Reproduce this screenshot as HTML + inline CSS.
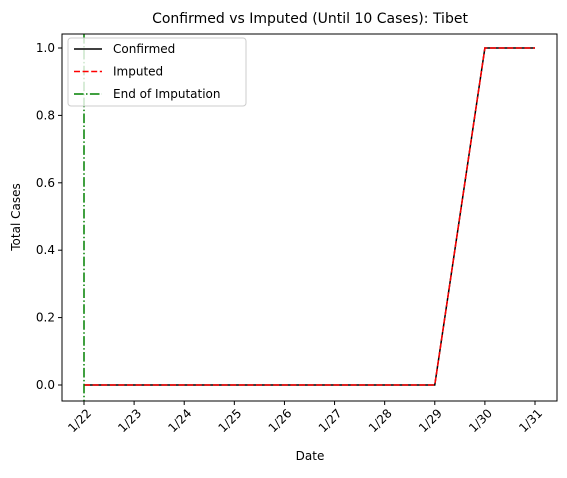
<!DOCTYPE html>
<html><head><meta charset="utf-8"><style>
body{margin:0;background:#fff}
svg text{font-family:"DejaVu Sans","Liberation Sans",sans-serif;fill:#000}
</style></head><body>
<svg id="c" width="567" height="473">
<text x="310" y="23" font-size="14" text-anchor="middle">Confirmed vs Imputed (Until 10 Cases): Tibet</text>
<text x="310" y="460" font-size="12" text-anchor="middle">Date</text>
<text transform="translate(20,217) rotate(-90)" font-size="12" text-anchor="middle">Total Cases</text>
<g id="plot"></g>
</svg>
<script>
const categories=["1/22","1/23","1/24","1/25","1/26","1/27","1/28","1/29","1/30","1/31"];
const confirmed=[0,0,0,0,0,0,0,0,1,1];
const imputed=[0,0,0,0,0,0,0,0,1,1];
const yTicks=[0.0,0.2,0.4,0.6,0.8,1.0];
const endIdx=0;
const L=62,R=557,T=34,B=401;
const xs=i=>84+i*(535-84)/(categories.length-1);
const ys=v=>385-v*(385-48);
const ns="http://www.w3.org/2000/svg",g=document.getElementById('plot');
function mk(t,a){const e=document.createElementNS(ns,t);for(const k in a)e.setAttribute(k,a[k]);g.appendChild(e);return e;}
yTicks.forEach(v=>{const y=ys(v);
const t=mk('line',{x1:L-4,x2:L,y1:y,y2:y,stroke:'#000'});


const l=mk('text',{x:L-7,y:y+4,'font-size':12,'text-anchor':'end'});l.textContent=v.toFixed(1);

});
categories.forEach((c,i)=>{const x=xs(i);
const t=mk('line',{x1:x,x2:x,y1:B,y2:B+4,stroke:'#000'});


const l=mk('text',{transform:`translate(${x+8},${B+13}) rotate(-45)`,'font-size':12,'text-anchor':'end'});l.textContent=c;

});
const pts=a=>a.map((v,i)=>xs(i)+','+ys(v)).join(' ');
const c1=mk('polyline',{points:pts(confirmed),fill:'none',stroke:'#000','stroke-width':1.5});


const c2=mk('polyline',{points:pts(imputed),fill:'none',stroke:'#f00','stroke-width':1.5,'stroke-dasharray':'6,2.6'});


const ev=mk('line',{x1:xs(endIdx),x2:xs(endIdx),y1:T,y2:B,stroke:'#008000','stroke-width':1.5,'stroke-dasharray':'9.6,2.4,1.5,2.4'});


const fr=mk('rect',{x:L,y:T,width:R-L,height:B-T,fill:'none',stroke:'#000','stroke-width':1});


const lg=mk('rect',{x:68,y:38,width:178,height:68,fill:'#fff','fill-opacity':0.8,stroke:'#ccc',rx:3});


[["Confirmed","#000",""],["Imputed","#f00","6,2.6"],["End of Imputation","#008000","9.6,2.4,1.5,2.4"]].forEach((e,i)=>{const y=49+i*22.5;
const ln=mk('line',{x1:74,x2:102,y1:y,y2:y,stroke:e[1],'stroke-width':1.5,'stroke-dasharray':e[2]});


const t=mk('text',{x:113,y:y+4,'font-size':12});t.textContent=e[0];

});
</script>
</body></html>
